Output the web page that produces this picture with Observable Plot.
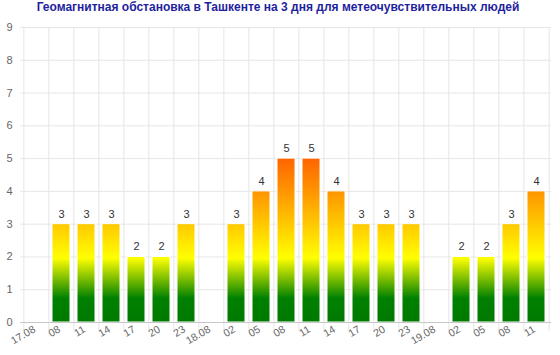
<!DOCTYPE html>
<html>
<head>
<meta charset="utf-8">
<script src="https://cdn.jsdelivr.net/npm/d3@7"></script>
<script src="https://cdn.jsdelivr.net/npm/@observablehq/plot@0.6"></script>
<style>
  html, body { margin: 0; padding: 0; background: #fff; }
  #title { height: 20px; line-height: 19px; text-align: center; font: bold 12px "Liberation Sans", Arial, sans-serif; color: #1f1fa0; white-space: nowrap; padding-right: 4px; }
  svg { display: block; }
</style>
</head>
<body>
<div id="title">Геомагнитная обстановка в Ташкенте на 3 дня для метеочувствительных людей</div>
<div id="chart"></div>
<script>
const tickLabels = ["17.08","08","11","14","17","20","23","18.08","02","05","08","11","14","17","20","23","19.08","02","05","08","11"];
const kpValues = [null,3,3,3,2,2,3,null,3,4,5,5,4,3,3,3,null,2,2,3,4];
const yTicks = [0,1,2,3,4,5,6,7,8,9];

const keys = tickLabels.map((_, i) => String(i));
const data = keys.map((k, i) => ({key: k, label: tickLabels[i], value: kpValues[i]}));
const barsData = data.filter(d => d.value != null);

const W = 560, H = 335, mL = 20, mR = 9, mT = 7, mB = 33;
const step = (W - mL - mR) / keys.length;

const plot = Plot.plot({
  width: W, height: H,
  marginLeft: mL, marginRight: mR, marginTop: mT, marginBottom: mB,
  style: {fontFamily: "'Liberation Sans', Arial, sans-serif", background: "#fff"},
  x: {domain: keys, paddingInner: 0.29, paddingOuter: 0.145, align: 0.5, label: null},
  y: {domain: [0, 9], label: null},
  marks: [
    Plot.gridY(yTicks, {stroke: "#e6e6e6", strokeOpacity: 1}),
    Plot.ruleX(keys, {x: d => d, y1: 9, y2: 0, dx: -step / 2, stroke: "#e6e6e6", insetBottom: -9}),
    Plot.ruleX(keys.slice(-1), {x: d => d, y1: 9, y2: 0, dx: step / 2, stroke: "#e6e6e6", insetBottom: -9}),
    Plot.barY(barsData, {x: "key", y: "value", fill: "url(#kpgrad)", stroke: "#fff", strokeWidth: 1, insetLeft: 0, insetRight: 0}),
    Plot.ruleY([0], {stroke: "#c8c8c8", strokeWidth: 1}),
    Plot.text(barsData, {x: "key", y: "value", text: d => String(d.value), dy: -10, fontSize: 11, fill: "#333"}),
    Plot.axisY(yTicks, {tickSize: 0, tickPadding: 8, fontSize: 11, fill: "#666", label: null}),
    Plot.axisX({tickSize: 0, tickRotate: -30, tickPadding: 6, dx: -2, fontSize: 10.5, fill: "#666", tickFormat: k => tickLabels[+k], label: null})
  ]
});

const svgNS = "http://www.w3.org/2000/svg";
const defs = document.createElementNS(svgNS, "defs");
const grad = document.createElementNS(svgNS, "linearGradient");
grad.setAttribute("id", "kpgrad");
grad.setAttribute("gradientUnits", "userSpaceOnUse");
grad.setAttribute("x1", "0"); grad.setAttribute("x2", "0");
const y0 = mT + (H - mT - mB), y9 = mT;
grad.setAttribute("y1", y0); grad.setAttribute("y2", y9);
const stops = [[0, "#007a00"], [0.72, "#008000"], [1.95, "#ffff00"], [3, "#ffc800"], [4, "#ff9400"], [5, "#ff6400"], [9, "#ff0000"]];
for (const [v, c] of stops) {
  const s = document.createElementNS(svgNS, "stop");
  s.setAttribute("offset", v / 9);
  s.setAttribute("stop-color", c);
  grad.appendChild(s);
}
defs.appendChild(grad);
plot.insertBefore(defs, plot.firstChild);
document.getElementById("chart").appendChild(plot);
</script>
</body>
</html>
